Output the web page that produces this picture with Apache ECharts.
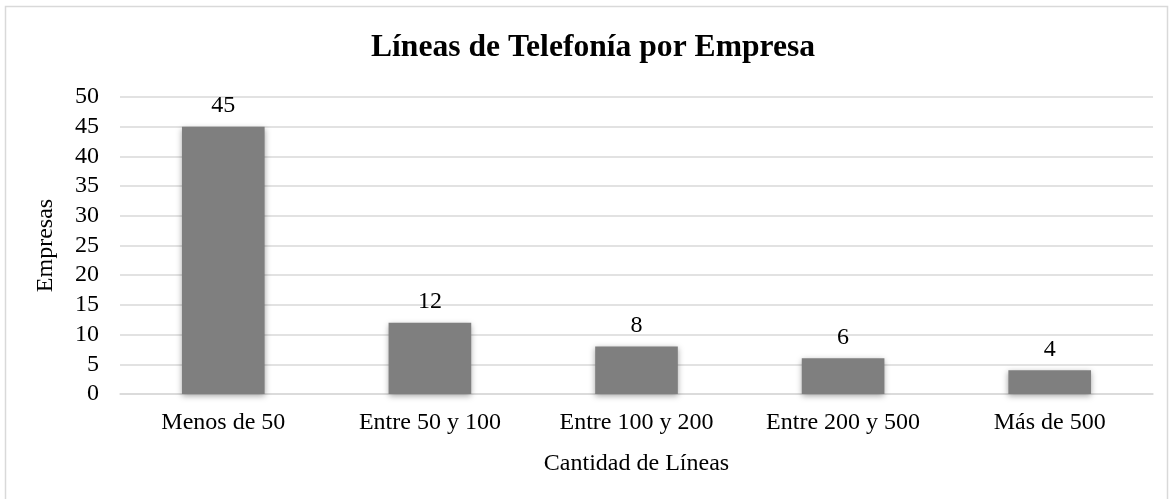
<!DOCTYPE html>
<html lang="es">
<head>
<meta charset="UTF-8">
<title>Líneas de Telefonía por Empresa</title>
<script src="https://cdn.jsdelivr.net/npm/echarts@6/dist/echarts.min.js"></script>
<style>
  body { margin: 0; background: #fff; }
  #main { width: 1174px; height: 499px; }
</style>
</head>
<body>
<div id="main"></div>
<script>
  // datos del gráfico
  var categorias = ['Menos de 50', 'Entre 50 y 100', 'Entre 100 y 200', 'Entre 200 y 500', 'Más de 500'];
  var empresas = [45, 12, 8, 6, 4];

  var fuente = '"Liberation Serif", "Times New Roman", serif';
  var chart = echarts.init(document.getElementById('main'));

  var option = {
    backgroundColor: '#fff',
    animation: false,
    textStyle: { fontFamily: fuente },
    title: {
      text: 'Líneas de Telefonía por Empresa',
      left: 366,
      top: 27,
      textStyle: { fontFamily: fuente, fontSize: 31.6, fontWeight: 'bold', color: '#000' }
    },
    graphic: [{
      type: 'rect',
      shape: { x: 5.5, y: 6.5, width: 1162, height: 520 },
      style: { fill: null, stroke: '#d9d9d9', lineWidth: 1.5 },
      silent: true
    }],
    grid: { left: 120, right: 21, top: 97, bottom: 105 },
    xAxis: {
      type: 'category',
      data: categorias,
      name: 'Cantidad de Líneas',
      nameLocation: 'middle',
      nameGap: 58,
      nameTextStyle: { fontFamily: fuente, fontSize: 24, color: '#000' },
      axisLine: { lineStyle: { color: '#d9d9d9', width: 1.5 } },
      axisTick: { show: false },
      axisLabel: { fontFamily: fuente, fontSize: 24, color: '#000', margin: 17 }
    },
    yAxis: {
      type: 'value',
      min: 0,
      max: 50,
      interval: 5,
      name: 'Empresas',
      nameLocation: 'middle',
      nameGap: 62,
      nameRotate: 90,
      nameTextStyle: { fontFamily: fuente, fontSize: 24, color: '#000' },
      axisLine: { show: false },
      axisTick: { show: false },
      axisLabel: { fontFamily: fuente, fontSize: 24, color: '#000', margin: 21 },
      splitLine: { lineStyle: { color: '#d9d9d9', width: 1.5 } }
    },
    series: [{
      type: 'bar',
      data: empresas,
      barWidth: '40%',
      itemStyle: {
        color: '#7f7f7f',
        shadowColor: 'rgba(0,0,0,0.35)',
        shadowBlur: 6,
        shadowOffsetY: 2
      },
      label: {
        show: true,
        position: 'top',
        distance: 9,
        fontFamily: fuente,
        fontSize: 24,
        color: '#000'
      }
    }]
  };

  chart.setOption(option);
</script>
</body>
</html>
